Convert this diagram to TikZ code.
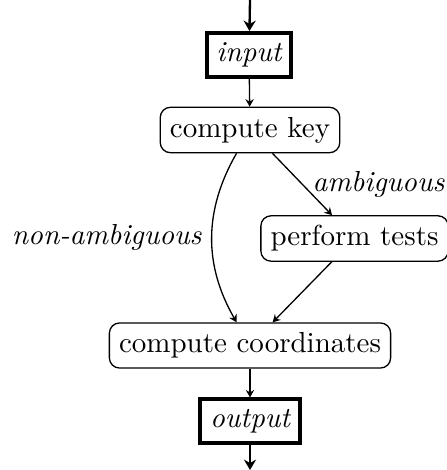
\documentclass[tikz,border=0pt]{standalone}
\usetikzlibrary{arrows.meta}
\begin{document}
\begin{tikzpicture}[x=0.345pt,y=-0.345pt,
  iobox/.style={draw,line width=1.4pt,inner sep=3.333pt,font=\itshape},
  procbox/.style={draw,rounded corners=3.5pt,inner sep=3.333pt,line width=0.45pt},
  flow/.style={-{Stealth[length=2.6pt,width=2.9pt,inset=0.9pt]},line width=0.45pt},
  ioflow/.style={-{Stealth[length=3.6pt,width=4.2pt,inset=1.2pt]},thick},
  lbl/.style={font=\itshape}]
\useasboundingbox (0,0) rectangle (446,470);
\coordinate (top) at (250,0);
\coordinate (bot) at (250,470);
\node[iobox] (in) at (249,55) {input};
\node[procbox] (ck) at (250,130) {compute key};
\node[procbox] (pt) at (354.5,238.5) {perform tests};
\node[procbox] (cc) at (250,345.5) {compute coordinates};
\node[iobox] (out) at (250,421) {output};
\draw[ioflow] (top) -- (in);
\draw[flow] (in) -- (ck);
\draw[flow] (ck) -- node[lbl,right] {ambiguous} (pt);
\draw[flow] (ck) to[bend right] node[lbl,left] {non-ambiguous} (cc);
\draw[flow] (pt) -- (cc);
\draw[flow] (cc) -- (out);
\draw[ioflow] (out) -- (bot);
\end{tikzpicture}
\end{document}
